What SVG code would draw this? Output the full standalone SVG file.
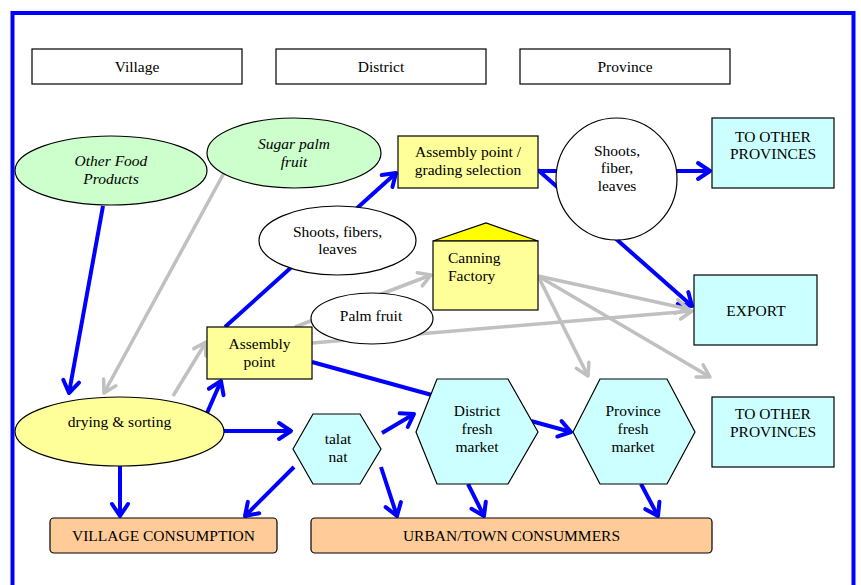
<svg xmlns="http://www.w3.org/2000/svg" width="861" height="585" viewBox="0 0 861 585">
<style>
text{font-family:"Liberation Serif","Times New Roman","DejaVu Serif",serif;font-size:15.5px;fill:#000;text-anchor:middle}
.it{font-style:italic}
.nb{stroke:#000;stroke-width:1.2}
.grn{fill:#CCFFCC}
.yel{fill:#FFFF99}
.cyn{fill:#CCFFFF}
.org{fill:#FFCC99}
.wht{fill:#fff}
.b{stroke:#0000FF;stroke-width:4;fill:none;marker-end:url(#ab)}
.bn{stroke:#0000FF;stroke-width:4;fill:none}
.g{stroke:#C0C0C0;stroke-width:3.5;fill:none;marker-end:url(#ag)}
</style>
<defs>
<marker id="ab" markerUnits="userSpaceOnUse" viewBox="-16 -11 19 22" markerWidth="19" markerHeight="22" refX="0" refY="0" orient="auto">
<path d="M-12,-8 L0,0 L-12,8" fill="none" stroke="#0000FF" stroke-width="4" stroke-linejoin="round" stroke-linecap="round"/>
</marker>
<marker id="ag" markerUnits="userSpaceOnUse" viewBox="-16 -11 19 22" markerWidth="19" markerHeight="22" refX="0" refY="0" orient="auto">
<path d="M-12,-7 L0,0 L-12,7" fill="none" stroke="#C0C0C0" stroke-width="3.5" stroke-linejoin="round" stroke-linecap="round"/>
</marker>
</defs>
<rect x="0" y="0" width="861" height="585" fill="#fff"/>
<rect x="12.5" y="13" width="841" height="600" fill="none" stroke="#0000FF" stroke-width="4"/>

<g id="connectors">
<line class="b" x1="103" y1="206" x2="69" y2="393"/>
<line class="g" x1="224" y1="173" x2="104" y2="393"/>
<line class="g" x1="173" y1="396" x2="206" y2="342"/>
<line class="b" x1="207" y1="413" x2="221" y2="381"/>
<line class="b" x1="225" y1="327" x2="396" y2="173"/>
<line class="g" x1="295" y1="327" x2="431" y2="275"/>
<line class="g" x1="312" y1="343" x2="692" y2="311"/>
<line class="bn" x1="312" y1="362" x2="450" y2="400"/>
<line class="b" x1="224" y1="431" x2="291" y2="431"/>
<line class="b" x1="120" y1="466" x2="120" y2="516"/>
<line class="b" x1="294" y1="467" x2="245" y2="516"/>
<line class="b" x1="381" y1="467" x2="397" y2="516"/>
<line class="b" x1="382" y1="433" x2="414" y2="414"/>
<line class="b" x1="531" y1="421" x2="571" y2="432"/>
<line class="b" x1="468" y1="484" x2="484" y2="516"/>
<line class="b" x1="641" y1="484" x2="658" y2="516"/>
<line class="b" x1="538" y1="171" x2="710" y2="171"/>
<line class="b" x1="538" y1="170" x2="692" y2="306"/>
<line class="g" x1="538" y1="276" x2="688" y2="309"/>
<line class="g" x1="538" y1="276" x2="588" y2="376"/>
<line class="g" x1="538" y1="276" x2="710" y2="377"/>
</g>

<g id="village-header"><rect class="nb wht" x="32" y="49" width="210" height="35"/><text x="137" y="72">Village</text></g>
<g id="district-header"><rect class="nb wht" x="276" y="49" width="210" height="35"/><text x="381" y="72">District</text></g>
<g id="province-header"><rect class="nb wht" x="520" y="49" width="210" height="35"/><text x="625" y="72">Province</text></g>

<g id="other-food"><ellipse class="nb grn" cx="111" cy="170.5" rx="96" ry="34.5"/><text class="it" x="111" y="166">Other Food</text><text class="it" x="111" y="184">Products</text></g>
<g id="sugar-palm"><ellipse class="nb grn" cx="294" cy="153" rx="87" ry="35"/><text class="it" x="294" y="149">Sugar palm</text><text class="it" x="294" y="167">fruit</text></g>

<g id="grading"><rect class="nb yel" x="398" y="136" width="140" height="52"/><text x="468" y="157">Assembly point /</text><text x="468" y="175">grading selection</text></g>
<g id="shoots-circle"><ellipse class="nb wht" cx="616.5" cy="179" rx="60.5" ry="61"/><text x="617" y="156">Shoots,</text><text x="617" y="173">fiber,</text><text x="617" y="191">leaves</text></g>
<g id="to-other-1"><rect class="nb cyn" x="712" y="118" width="122" height="70"/><text x="773" y="142">TO OTHER</text><text x="773" y="159">PROVINCES</text></g>
<g id="export"><rect class="nb cyn" x="694" y="275" width="123" height="70"/><text x="756" y="316">EXPORT</text></g>
<g id="to-other-2"><rect class="nb cyn" x="712" y="397" width="122" height="70"/><text x="773" y="419">TO OTHER</text><text x="773" y="437">PROVINCES</text></g>

<g id="canning"><polygon class="nb" fill="#FFFF00" points="433,241 486,223 538,241"/><rect class="nb yel" x="433" y="241" width="105" height="69"/><text x="448" y="263" style="text-anchor:start">Canning</text><text x="448" y="281" style="text-anchor:start">Factory</text></g>

<g id="shoots-ellipse"><ellipse class="nb wht" cx="337.5" cy="240.5" rx="78.5" ry="34.5"/><text x="337.5" y="237">Shoots, fibers,</text><text x="337.5" y="254">leaves</text></g>
<g id="palm-fruit"><ellipse class="nb wht" cx="372" cy="318.5" rx="61" ry="25.5"/><text x="371" y="321">Palm fruit</text></g>
<g id="assembly"><rect class="nb yel" x="207" y="327" width="105" height="52"/><text x="259.5" y="349">Assembly</text><text x="259.5" y="367">point</text></g>

<g id="drying"><ellipse class="nb yel" cx="119.5" cy="431.5" rx="104.5" ry="34.5"/><text x="119.5" y="427">drying &amp; sorting</text></g>
<g id="talat-nat"><polygon class="nb cyn" points="293,449 313,414 360,414 381,449 360,484 313,484"/><text x="338" y="444">talat</text><text x="338" y="462">nat</text></g>
<g id="district-market"><polygon class="nb cyn" points="416,432 437,379 508,379 538,432 508,484 437,484"/><text x="477" y="416">District</text><text x="477" y="434">fresh</text><text x="477" y="452">market</text></g>
<g id="province-market"><polygon class="nb cyn" points="573,432 600,379 667,379 695,432 667,484 600,484"/><text x="633" y="416">Province</text><text x="633" y="434">fresh</text><text x="633" y="452">market</text></g>

<g id="village-consumption"><rect class="nb org" x="50" y="518" width="227" height="35" rx="4"/><text x="163.5" y="541">VILLAGE CONSUMPTION</text></g>
<g id="urban-consumers"><rect class="nb org" x="311" y="518" width="401" height="35" rx="4"/><text x="511.5" y="541">URBAN/TOWN CONSUMMERS</text></g>
</svg>
